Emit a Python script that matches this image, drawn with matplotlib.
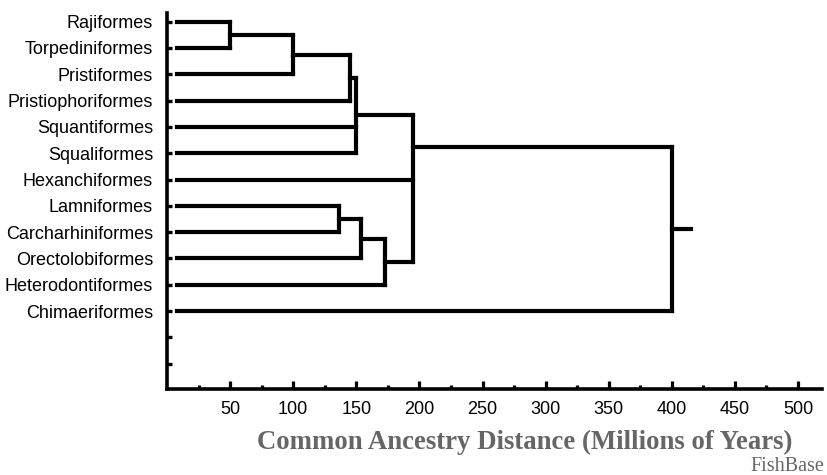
import matplotlib.pyplot as plt

# leaves (top to bottom) and two empty rows under them
taxa = ['Rajiformes', 'Torpediniformes', 'Pristiformes', 'Pristiophoriformes',
        'Squantiformes', 'Squaliformes', 'Hexanchiformes', 'Lamniformes',
        'Carcharhiniformes', 'Orectolobiformes', 'Heterodontiformes',
        'Chimaeriformes']
empty_rows = ['', '']

# internal nodes: height (Myr) and children (first two set the junction)
node_names = ['n1', 'n2', 'n3', 'n4', 'n5', 'n6', 'n7', 'n8', 'root']
node_heights = [50, 100, 145, 150, 136, 154, 173, 195, 400]
node_children = [
    ['Rajiformes', 'Torpediniformes'],
    ['n1', 'Pristiformes'],
    ['n2', 'Pristiophoriformes'],
    ['n3', 'Squaliformes', 'Squantiformes'],
    ['Lamniformes', 'Carcharhiniformes'],
    ['n5', 'Orectolobiformes'],
    ['n6', 'Heterodontiformes'],
    ['n4', 'Hexanchiformes', 'n7'],
    ['n8', 'Chimaeriformes'],
]
leaf_start = 8
root_stub = 415

x_major = [50, 100, 150, 200, 250, 300, 350, 400, 450, 500]
x_minor = [25, 75, 125, 175, 225, 275, 325, 375, 425, 475]

fig = plt.figure(figsize=(8.27, 4.75), dpi=100)
ax = fig.add_axes([167 / 827, 1 - 389 / 475, (822 - 167) / 827, (389 - 13) / 475])

lw = 3.0
style = dict(color='black', lw=lw, solid_capstyle='projecting')

# row positions of leaves, heights and junction rows of nodes
ypos = {name: i for i, name in enumerate(taxa)}
xpos = {name: leaf_start for name in taxa}
parent = {}
for name, h, kids in zip(node_names, node_heights, node_children):
    xpos[name] = h
    for k in kids:
        parent[k] = name
    ypos[name] = (ypos[kids[0]] + ypos[kids[1]]) / 2

for name in taxa + node_names:
    y = ypos[name]
    x_end = xpos[parent[name]] if name in parent else root_stub
    ax.plot([xpos[name], x_end], [y, y], **style)

for name, h, kids in zip(node_names, node_heights, node_children):
    ys = [ypos[k] for k in kids]
    ax.plot([h, h], [min(ys), max(ys)], **style)

labels = taxa + empty_rows
ax.set_yticks(range(len(labels)))
ax.set_yticklabels(labels, family='Liberation Sans', fontsize=13)
ax.set_ylim(len(labels) - 0.04, -0.33)
ax.set_xlim(0, 519)
ax.set_xticks(x_major)
ax.set_xticks(x_minor, minor=True)
ax.set_xticklabels([str(v) for v in x_major], family='Liberation Sans', fontsize=13)

ax.tick_params(axis='y', direction='in', length=3.5, width=2.4, pad=10)
ax.tick_params(axis='x', which='major', direction='in', length=6, width=2.3, pad=9)
ax.tick_params(axis='x', which='minor', direction='in', length=3, width=2.3)

for side in ['top', 'right']:
    ax.spines[side].set_visible(False)
for side in ['left', 'bottom']:
    ax.spines[side].set_linewidth(2.6)

fig.text(525 / 827, 1 - 449 / 475, 'Common Ancestry Distance (Millions of Years)',
         family='Liberation Serif', fontweight='bold', fontsize=19.3,
         color='#666666', ha='center', va='baseline')
fig.text(0.997, 1 - 471 / 475, 'FishBase', family='Liberation Serif', fontsize=14.5,
         color='#666666', ha='right', va='baseline')

fig.savefig('out.png', dpi=100)
